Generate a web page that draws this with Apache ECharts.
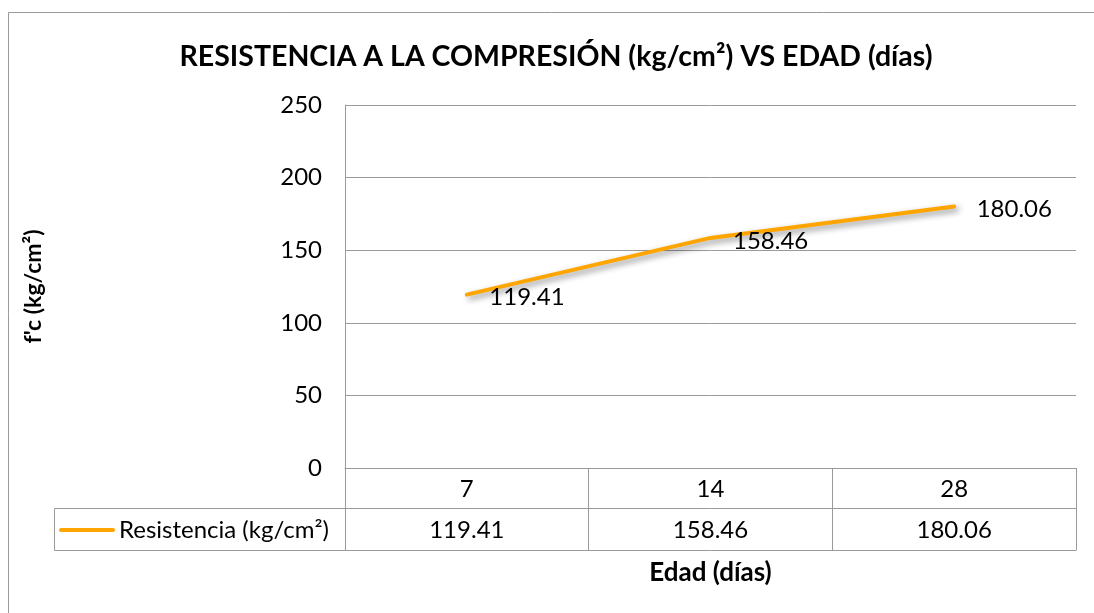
<!DOCTYPE html>
<html>
<head>
<meta charset="utf-8">
<script src="https://cdn.jsdelivr.net/npm/echarts@6/dist/echarts.min.js"></script>
<style>
  html, body { margin: 0; padding: 0; background: #fff; }
  #chart { width: 1094px; height: 613px; }
</style>
</head>
<body>
<div id="chart"></div>
<script>
// datos de la gráfica
var edades = ['7', '14', '28'];
var resistencia = [119.41, 158.46, 180.06];
var serieNombre = 'Resistencia (kg/cm²)';
var yTicks = { min: 0, max: 250, interval: 50 };

var fuente = 'Lato';
var gris = '#9a9a9a';
var naranja = '#FFA500';
var tam = 24;

var chart = echarts.init(document.getElementById('chart'));

chart.setOption({
  animation: false,
  textStyle: { fontFamily: fuente },
  title: {
    text: 'RESISTENCIA A LA COMPRESIÓN (kg/cm²) VS EDAD (días)',
    left: 551,
    top: 37,
    textAlign: 'center',
    textStyle: { fontSize: 28.5, fontWeight: 'bold', color: '#000', fontFamily: fuente }
  },
  grid: { left: 345, top: 105, right: 18, bottom: 145 },
  xAxis: [{
    // fila de categorías
    type: 'category',
    data: edades,
    position: 'bottom',
    boundaryGap: true,
    axisLine: { show: true, lineStyle: { color: gris, width: 1 } },
    axisTick: { show: true, interval: 0, length: 82, lineStyle: { color: gris } },
    axisLabel: { margin: 9, fontSize: tam, color: '#000', interval: 0 }
  }, {
    // fila de valores de la tabla
    type: 'category',
    data: edades,
    position: 'bottom',
    offset: 40,
    axisLine: { show: true, lineStyle: { color: gris, width: 1 } },
    axisTick: { show: false },
    axisLabel: {
      margin: 10, fontSize: tam, color: '#000', interval: 0,
      formatter: function (v, i) { return resistencia[i].toFixed(2); }
    }
  }, {
    // borde inferior de la tabla y nombre del eje
    type: 'category',
    data: edades,
    position: 'bottom',
    offset: 82,
    axisLine: { show: true, lineStyle: { color: gris, width: 1 } },
    axisTick: { show: false },
    axisLabel: { show: false },
    name: 'Edad (días)',
    nameLocation: 'middle',
    nameGap: 10,
    nameTextStyle: { fontSize: 26, fontWeight: 'bold', color: '#000', fontFamily: fuente }
  }],
  yAxis: {
    type: 'value',
    min: yTicks.min,
    max: yTicks.max,
    interval: yTicks.interval,
    axisLine: { show: true, lineStyle: { color: gris, width: 1 } },
    axisTick: { show: false },
    splitLine: { show: true, lineStyle: { color: gris, width: 1 } },
    axisLabel: { margin: 23, fontSize: tam, color: '#000' },
    name: "f'c (kg/cm²)",
    nameLocation: 'middle',
    nameRotate: 90,
    nameGap: 300,
    nameTextStyle: { fontSize: 23, fontWeight: 'bold', color: '#000', fontFamily: fuente }
  },
  series: [{
    name: serieNombre,
    type: 'line',
    xAxisIndex: 0,
    data: resistencia,
    symbol: 'circle',
    symbolSize: 1,
    itemStyle: { color: naranja },
    lineStyle: {
      color: naranja, width: 4, cap: 'round',
      shadowColor: 'rgba(0,0,0,0.45)', shadowBlur: 6, shadowOffsetX: 3, shadowOffsetY: 3
    },
    label: {
      show: true, position: 'right', distance: 22, offset: [0, 3],
      fontSize: tam, color: '#000', fontFamily: fuente,
      formatter: function (p) { return p.value.toFixed(2); }
    }
  }],
  graphic: [{
    // marco exterior
    type: 'rect',
    shape: { x: 8.5, y: 12.5, width: 1200, height: 800 },
    style: { fill: 'none', stroke: gris, lineWidth: 1 },
    silent: true
  }, {
    // celda de leyenda de la tabla
    type: 'rect',
    shape: { x: 54.5, y: 508.5, width: 291, height: 42 },
    style: { fill: 'none', stroke: gris, lineWidth: 1 },
    silent: true
  }, {
    type: 'line',
    shape: { x1: 61, y1: 530, x2: 113, y2: 530 },
    style: { stroke: naranja, lineWidth: 4, lineCap: 'round' },
    silent: true
  }, {
    type: 'text',
    x: 119, y: 530,
    style: { text: serieNombre, fontSize: tam, fill: '#000', fontFamily: fuente, verticalAlign: 'middle' },
    silent: true
  }]
});

window.addEventListener('resize', function () { chart.resize(); });
</script>
</body>
</html>
